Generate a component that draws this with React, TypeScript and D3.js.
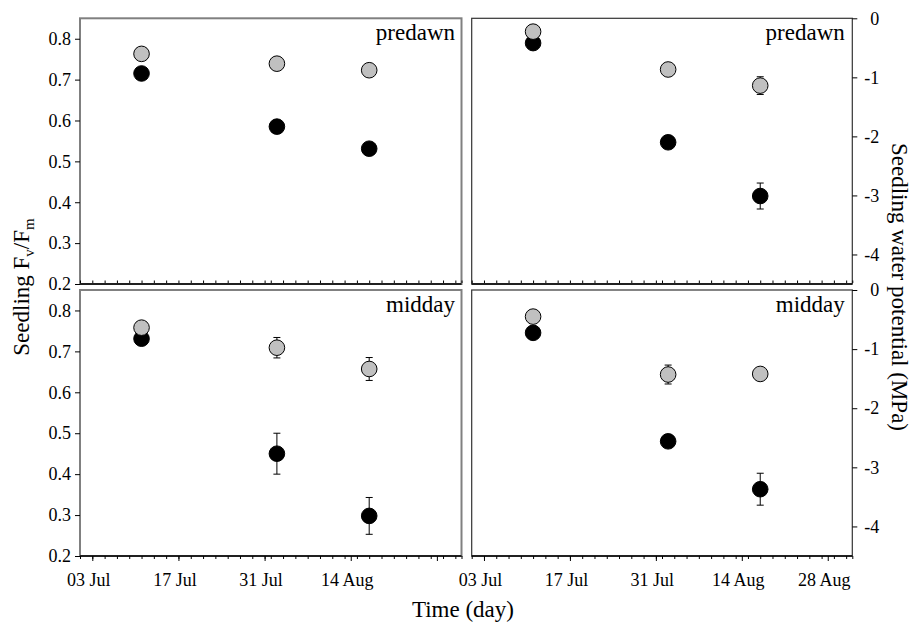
import React, { useEffect, useRef } from "react";
import * as d3 from "d3";

// sampling dates (day of measurement)
const sampleDates = ["2003-07-11", "2003-08-02", "2003-08-17"];
const majorTickDates = ["2003-07-03", "2003-07-17", "2003-07-31", "2003-08-14", "2003-08-28"];
const fvTicks = [0.2, 0.3, 0.4, 0.5, 0.6, 0.7, 0.8];
const psiTicks = [0, -1, -2, -3, -4];

// Fv/Fm, predawn
const fvPredawnDry = [0.715, 0.585, 0.531];
const fvPredawnDryErr = [0.006, 0.008, 0.01];
const fvPredawnWet = [0.763, 0.739, 0.723];
const fvPredawnWetErr = [0.005, 0.006, 0.008];
// Fv/Fm, midday
const fvMiddayDry = [0.731, 0.45, 0.298];
const fvMiddayDryErr = [0.01, 0.05, 0.045];
const fvMiddayWet = [0.758, 0.709, 0.657];
const fvMiddayWetErr = [0.01, 0.025, 0.028];
// water potential (MPa), predawn
const psiPredawnDry = [-0.42, -2.1, -3.01];
const psiPredawnDryErr = [0.05, 0.08, 0.22];
const psiPredawnWet = [-0.226, -0.867, -1.14];
const psiPredawnWetErr = [0.03, 0.05, 0.15];
// water potential (MPa), midday
const psiMiddayDry = [-0.725, -2.56, -3.37];
const psiMiddayDryErr = [0.05, 0.08, 0.27];
const psiMiddayWet = [-0.45, -1.43, -1.42];
const psiMiddayWetErr = [0.05, 0.16, 0.08];

const FONT = "'Liberation Serif', 'Times New Roman', Times, serif";
const parse = (s: string) => new Date(s + "T00:00:00Z");

export default function App() {
  const ref = useRef<SVGSVGElement>(null);

  useEffect(() => {
    const svg = d3.select(ref.current);
    svg.selectAll("*").remove();

    const xDomain = [parse("2003-07-01"), parse("2003-09-01")];
    const minorTicks = d3.utcDay.every(2)!.range(xDomain[0], d3.utcDay.offset(xDomain[1], 1));
    const majors = majorTickDates.map(parse);
    const dates = sampleDates.map(parse);

    const panels = [
      { x0: 80, x1: 461.5, y0: 18.3, y1: 284, dom: [0.2, 0.85], ticks: fvTicks, side: "left", label: "predawn",
        dry: fvPredawnDry, dryErr: fvPredawnDryErr, wet: fvPredawnWet, wetErr: fvPredawnWetErr, showX: false, lastLabel: false, border: "#808080", bw: 2 },
      { x0: 471.7, x1: 852.3, y0: 18.3, y1: 284, dom: [-4.5, 0], ticks: psiTicks, side: "right", label: "predawn",
        dry: psiPredawnDry, dryErr: psiPredawnDryErr, wet: psiPredawnWet, wetErr: psiPredawnWetErr, showX: false, lastLabel: true, border: "#333", bw: 1.2 },
      { x0: 80, x1: 461.5, y0: 290, y1: 556, dom: [0.2, 0.85], ticks: fvTicks, side: "left", label: "midday",
        dry: fvMiddayDry, dryErr: fvMiddayDryErr, wet: fvMiddayWet, wetErr: fvMiddayWetErr, showX: true, lastLabel: false, border: "#808080", bw: 2 },
      { x0: 471.7, x1: 852.3, y0: 290, y1: 556, dom: [-4.5, 0], ticks: psiTicks, side: "right", label: "midday",
        dry: psiMiddayDry, dryErr: psiMiddayDryErr, wet: psiMiddayWet, wetErr: psiMiddayWetErr, showX: true, lastLabel: true, border: "#333", bw: 1.2 },
    ];

    panels.forEach((p) => {
      const x = d3.scaleUtc().domain(xDomain).range([p.x0, p.x1]);
      const y = d3.scaleLinear().domain(p.dom).range([p.y1, p.y0]);
      const g = svg.append("g");

      // frame
      g.append("rect")
        .attr("x", p.x0).attr("y", p.y0)
        .attr("width", p.x1 - p.x0).attr("height", p.y1 - p.y0)
        .attr("fill", "none").attr("stroke", p.border).attr("stroke-width", p.bw);

      // y axis (plain hyphen for negatives, as in the original)
      const yAxis = (p.side === "left" ? d3.axisLeft(y) : d3.axisRight(y))
        .tickValues(p.ticks)
        .tickSize(5)
        .tickPadding(4)
        .tickFormat((d) => (p.side === "left" ? (d as number).toFixed(1) : String(d)));
      const yG = g.append("g")
        .attr("transform", `translate(${p.side === "left" ? p.x0 : p.x1},0)`)
        .call(yAxis);
      yG.select(".domain").remove();
      yG.selectAll("text").attr("font-family", FONT).attr("font-size", 18).attr("fill", "#000");
      if (p.side === "right") yG.selectAll("text").attr("text-anchor", "end").attr("x", 27);

      // x axis
      const xG = g.append("g").attr("transform", `translate(0,${p.y1})`);
      xG.append("line").attr("x1", p.x0).attr("x2", p.x1).attr("stroke", "#000").attr("stroke-width", 1.5);
      if (p.showX) {
        const minorAxis = d3.axisBottom(x).tickValues(minorTicks).tickSize(3).tickFormat(() => "");
        const majorAxis = d3.axisBottom(x).tickValues(majors).tickSize(5).tickPadding(12)
          .tickFormat((d, i) => (i === majors.length - 1 && !p.lastLabel ? "" : d3.utcFormat("%d %b")(d as Date)));
        const mi = xG.append("g").call(minorAxis);
        mi.select(".domain").remove();
        const ma = xG.append("g").call(majorAxis);
        ma.select(".domain").remove();
        ma.selectAll("text").attr("font-family", FONT).attr("font-size", 18).attr("fill", "#000").attr("dx", -4);
      } else {
        const inAxis = d3.axisTop(x).tickValues(minorTicks).tickSize(2.5).tickFormat(() => "");
        const ia = xG.append("g").call(inAxis);
        ia.select(".domain").remove();
        ia.selectAll("line").attr("transform", "translate(0,-1)");
      }

      // panel label
      g.append("text")
        .attr("x", p.x1 - (p.side === "left" ? 6.5 : 7.5))
        .attr("y", p.y0 + 21.5)
        .attr("text-anchor", "end")
        .attr("font-family", FONT).attr("font-size", 23)
        .text(p.label);

      const series = [
        { v: p.dry, e: p.dryErr, fill: "#000" },
        { v: p.wet, e: p.wetErr, fill: "#c0c0c0" },
      ];
      series.forEach((s) => {
        const pts = dates.map((d, i) => ({ d, v: s.v[i], e: s.e[i] }));
        const eb = g.append("g").attr("stroke", "#000").attr("stroke-width", 1);
        pts.forEach((pt) => {
          const cx = x(pt.d);
          eb.append("line").attr("x1", cx).attr("x2", cx).attr("y1", y(pt.v - pt.e)).attr("y2", y(pt.v + pt.e));
          [pt.v - pt.e, pt.v + pt.e].forEach((v) => {
            eb.append("line").attr("x1", cx - 3.5).attr("x2", cx + 3.5).attr("y1", y(v)).attr("y2", y(v));
          });
        });
        g.selectAll(null)
          .data(pts)
          .enter()
          .append("circle")
          .attr("cx", (d) => x(d.d))
          .attr("cy", (d) => y(d.v))
          .attr("r", 7.8)
          .attr("fill", s.fill)
          .attr("stroke", "#000")
          .attr("stroke-width", 1);
      });
    });

    // axis titles
    const leftTitle = svg.append("text")
      .attr("transform", "translate(29,287) rotate(-90)")
      .attr("text-anchor", "middle")
      .attr("font-family", FONT).attr("font-size", 23);
    leftTitle.append("tspan").text("Seedling F");
    leftTitle.append("tspan").attr("font-size", 15).attr("dy", 5).text("v");
    leftTitle.append("tspan").attr("dy", -5).text("/F");
    leftTitle.append("tspan").attr("font-size", 15).attr("dy", 5).text("m");

    svg.append("text")
      .attr("transform", "translate(892,287) rotate(90)")
      .attr("text-anchor", "middle")
      .attr("font-family", FONT).attr("font-size", 23)
      .text("Seedling water potential (MPa)");

    svg.append("text")
      .attr("x", 463).attr("y", 617)
      .attr("text-anchor", "middle")
      .attr("font-family", FONT).attr("font-size", 23)
      .text("Time (day)");
  }, []);

  return (
    <svg
      ref={ref}
      width={912}
      height={625}
      style={{ position: "absolute", left: 0, top: 0, background: "#fff" }}
    />
  );
}
